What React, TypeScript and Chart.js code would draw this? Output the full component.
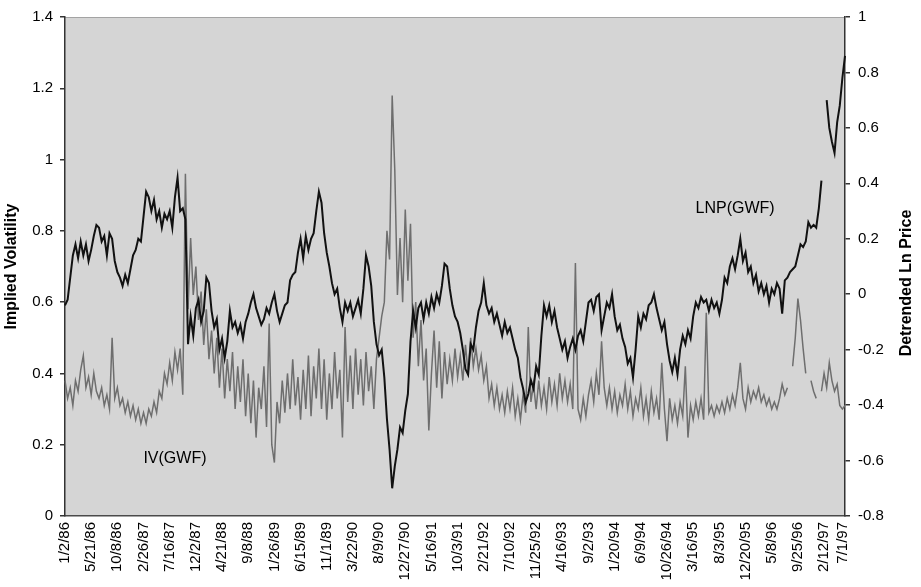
import React, { useEffect, useRef } from 'react';
import { Chart, registerables } from 'chart.js';

Chart.register(...registerables);

// ---- data (one sample roughly every 10 trading days) ----
const dateLabels = [
  '1/2/86', '5/21/86', '10/8/86', '2/26/87', '7/16/87', '12/2/87', '4/21/88', '9/8/88',
  '1/26/89', '6/15/89', '11/1/89', '3/22/90', '8/9/90', '12/27/90', '5/16/91', '10/3/91',
  '2/21/92', '7/10/92', '11/25/92', '4/16/93', '9/2/93', '1/20/94', '6/9/94', '10/26/94',
  '3/16/95', '8/3/95', '12/20/95', '5/8/96', '9/25/96', '2/12/97', '7/1/97',
];
// sample index at which each date label sits
const dateLabelIndex = [
  0, 10, 20, 30, 40, 50, 60, 70, 80, 90, 100, 110, 120, 130, 140, 150,
  160, 170, 180, 190, 200, 210, 220, 230, 240, 250, 260, 270, 280, 290, 297,
];

// Implied volatility, IV(GWF) – left axis
const ivValues: (number | null)[] = [
  0.38, 0.33, 0.36, 0.31, 0.38, 0.35, 0.41, 0.45, 0.36, 0.39,
  0.34, 0.4, 0.35, 0.33, 0.36, 0.31, 0.34, 0.3, 0.5, 0.33,
  0.36, 0.31, 0.33, 0.29, 0.32, 0.28, 0.31, 0.27, 0.3, 0.26,
  0.29, 0.26, 0.3, 0.28, 0.32, 0.29, 0.35, 0.33, 0.4, 0.37,
  0.43, 0.38, 0.46, 0.41, 0.47, 0.34, 0.96, 0.58, 0.78, 0.62,
  0.7, 0.55, 0.63, 0.48, 0.58, 0.44, 0.52, 0.4, 0.5, 0.36,
  0.47, 0.33, 0.44, 0.35, 0.46, 0.3, 0.42, 0.32, 0.44, 0.28,
  0.4, 0.26, 0.38, 0.22, 0.36, 0.3, 0.42, 0.25, 0.54, 0.2,
  0.15, 0.32, 0.26, 0.38, 0.29, 0.4, 0.3, 0.44, 0.31, 0.39,
  0.27, 0.41, 0.3, 0.45, 0.28, 0.42, 0.33, 0.47, 0.3, 0.44,
  0.27, 0.4, 0.3, 0.46, 0.33, 0.41, 0.22, 0.53, 0.32, 0.45,
  0.3, 0.47, 0.34, 0.44, 0.31, 0.46, 0.35, 0.42, 0.3, 0.44,
  0.5, 0.56, 0.6, 0.8, 0.72, 1.18, 0.97, 0.62, 0.78, 0.6,
  0.86, 0.66, 0.82, 0.5, 0.6, 0.42, 0.55, 0.38, 0.47, 0.24,
  0.4, 0.52, 0.36, 0.49, 0.33, 0.46, 0.37, 0.44, 0.38, 0.47,
  0.39, 0.45, 0.38, 0.48, 0.4, 0.5, 0.42, 0.47, 0.41, 0.45,
  0.38, 0.42, 0.33, 0.37, 0.31, 0.36, 0.3, 0.34, 0.29, 0.35,
  0.3, 0.36, 0.28, 0.33, 0.27, 0.34, 0.29, 0.53, 0.32, 0.37,
  0.3, 0.38, 0.31, 0.36, 0.3, 0.39, 0.32, 0.37, 0.31, 0.4,
  0.33, 0.38, 0.32, 0.37, 0.3, 0.71, 0.3, 0.27, 0.33, 0.28,
  0.34, 0.38, 0.32, 0.4, 0.34, 0.49, 0.36, 0.31, 0.36, 0.3,
  0.35, 0.29, 0.34, 0.31, 0.37, 0.3, 0.35, 0.28, 0.33, 0.3,
  0.36, 0.28, 0.33, 0.27, 0.35, 0.29, 0.33, 0.27, 0.43, 0.3,
  0.21, 0.33, 0.27, 0.31, 0.26, 0.32, 0.28, 0.42, 0.22, 0.31,
  0.27, 0.32, 0.28, 0.33, 0.27, 0.57, 0.29, 0.31, 0.28, 0.31,
  0.29, 0.32, 0.29, 0.33, 0.3, 0.34, 0.31, 0.36, 0.43, 0.33,
  0.3, 0.36, 0.32, 0.35, 0.33, 0.36, 0.32, 0.34, 0.31, 0.33,
  0.3, 0.32, 0.3, 0.33, 0.37, 0.34, 0.36, null, 0.42, 0.5,
  0.61, 0.55, 0.47, 0.4, null, 0.38, 0.35, 0.33, null, 0.35,
  0.4, 0.36, 0.43, 0.38, 0.35, 0.37, 0.31, 0.3, 0.31,
];

// Detrended ln price, LNP(GWF) – right axis
const lnpValues: (number | null)[] = [
  -0.04, -0.02, 0.06, 0.14, 0.18, 0.13, 0.19, 0.14, 0.18, 0.12,
  0.16, 0.21, 0.25, 0.24, 0.19, 0.21, 0.14, 0.22, 0.2, 0.12,
  0.08, 0.06, 0.03, 0.07, 0.04, 0.09, 0.14, 0.16, 0.2, 0.19,
  0.28, 0.37, 0.35, 0.3, 0.34, 0.27, 0.3, 0.24, 0.29, 0.27,
  0.3, 0.24, 0.35, 0.42, 0.3, 0.31, 0.27, -0.18, -0.08, -0.15,
  -0.05, -0.02, -0.1, -0.06, 0.06, 0.04, -0.06, -0.12, -0.09, -0.2,
  -0.16, -0.23, -0.17, -0.06, -0.12, -0.1, -0.14, -0.11, -0.16, -0.1,
  -0.07, -0.03, 0.0, -0.05, -0.08, -0.11, -0.09, -0.05, -0.07, -0.03,
  0.0, -0.06, -0.1, -0.07, -0.04, -0.03, 0.05, 0.07, 0.08, 0.15,
  0.2, 0.13, 0.21, 0.16, 0.2, 0.22, 0.3, 0.37, 0.33, 0.22,
  0.15, 0.1, 0.04, 0.0, 0.02, -0.05, -0.1, -0.03, -0.06, -0.03,
  -0.08, -0.05, -0.02, -0.07, 0.02, 0.14, 0.1, 0.03, -0.1, -0.18,
  -0.22, -0.2, -0.3, -0.45, -0.56, -0.7, -0.62, -0.56, -0.48, -0.5,
  -0.42, -0.36, -0.17, -0.06, -0.12, -0.05, -0.03, -0.09, -0.03, -0.07,
  -0.01, -0.05, 0.0, -0.03, 0.03, 0.11, 0.1, 0.02, -0.04, -0.08,
  -0.1, -0.14, -0.2, -0.27, -0.29, -0.18, -0.2, -0.12, -0.06, -0.03,
  0.04, -0.04, -0.07, -0.05, -0.1, -0.07, -0.11, -0.15, -0.1, -0.14,
  -0.12, -0.16, -0.2, -0.23, -0.3, -0.34, -0.39, -0.36, -0.31, -0.34,
  -0.26, -0.29, -0.15, -0.04, -0.08, -0.04, -0.1, -0.06, -0.12, -0.16,
  -0.2, -0.17, -0.23, -0.19, -0.16, -0.2, -0.15, -0.13, -0.17, -0.1,
  -0.03, -0.02, -0.06, -0.01, 0.0, -0.13, -0.08, -0.03, -0.05, 0.0,
  -0.08, -0.13, -0.11, -0.16, -0.19, -0.25, -0.23, -0.3, -0.2, -0.08,
  -0.12, -0.07, -0.09, -0.04, -0.03, 0.0, -0.05, -0.09, -0.13, -0.1,
  -0.18, -0.24, -0.28, -0.23, -0.29, -0.2, -0.15, -0.18, -0.13, -0.16,
  -0.08, -0.03, -0.05, -0.01, -0.03, -0.02, -0.06, -0.02, -0.05, -0.03,
  -0.07, -0.02, 0.06, 0.04, 0.1, 0.13, 0.09, 0.14, 0.2, 0.12,
  0.15, 0.08, 0.1, 0.04, 0.07, 0.01, 0.04, 0.0, 0.03, -0.03,
  0.02, 0.0, 0.04, 0.02, -0.07, 0.05, 0.06, 0.08, 0.09, 0.1,
  0.14, 0.18, 0.17, 0.19, 0.26, 0.24, 0.25, 0.24, 0.31, 0.41,
  null, 0.7, 0.6, 0.55, 0.51, 0.62, 0.68, 0.78, 0.86,
];

const leftAxis = { min: 0, max: 1.4, step: 0.2, title: 'Implied Volatility' };
const rightAxis = { min: -0.8, max: 1, step: 0.2, title: 'Detrended Ln Price' };

const seriesLabels = [
  { text: 'IV(GWF)', index: 42, value: 0.16, axis: 'y' },
  { text: 'LNP(GWF)', index: 256, value: 0.31, axis: 'y1' },
];

const categories: string[] = ivValues.map((_, i) => {
  const k = dateLabelIndex.indexOf(i);
  return k >= 0 ? dateLabels[k] : '';
});

const FONT = '"Liberation Sans", Arial, Helvetica, sans-serif';
const fmt = (v: number) => String(Math.round(v * 10) / 10);

const decorPlugin = {
  id: 'decor',
  beforeDraw(chart: any) {
    const { ctx, chartArea: a } = chart;
    ctx.save();
    ctx.fillStyle = '#d5d5d5';
    ctx.fillRect(a.left, a.top, a.right - a.left, a.bottom - a.top);
    ctx.strokeStyle = '#a3a3a3';
    ctx.lineWidth = 1;
    ctx.beginPath();
    ctx.moveTo(a.left, a.top + 0.5);
    ctx.lineTo(a.right, a.top + 0.5);
    ctx.stroke();
    ctx.restore();
  },
  afterDraw(chart: any) {
    const { ctx, chartArea: a } = chart;
    ctx.save();
    ctx.fillStyle = '#000';
    ctx.textAlign = 'center';
    ctx.textBaseline = 'middle';
    // axis titles
    ctx.font = `bold 16px ${FONT}`;
    ctx.save();
    ctx.translate(12, (a.top + a.bottom) / 2);
    ctx.rotate(-Math.PI / 2);
    ctx.fillText(leftAxis.title, 0, 0);
    ctx.restore();
    ctx.save();
    ctx.translate(907, 283);
    ctx.rotate(-Math.PI / 2);
    ctx.fillText(rightAxis.title, 0, 0);
    ctx.restore();
    // series labels
    ctx.font = `16px ${FONT}`;
    seriesLabels.forEach((l) => {
      const x = chart.scales.x.getPixelForValue(l.index);
      const y = chart.scales[l.axis].getPixelForValue(l.value);
      ctx.fillText(l.text, x, y);
    });
    ctx.restore();
  },
};

export default function App() {
  const ref = useRef<HTMLCanvasElement | null>(null);

  useEffect(() => {
    if (!ref.current) return;
    const chart = new Chart(ref.current, {
      type: 'line',
      data: {
        labels: categories,
        datasets: [
          {
            label: 'LNP(GWF)',
            data: lnpValues,
            yAxisID: 'y1',
            borderColor: '#111111',
            borderWidth: 2,
            pointRadius: 0,
            tension: 0,
            spanGaps: false,
          },
          {
            label: 'IV(GWF)',
            data: ivValues,
            yAxisID: 'y',
            borderColor: '#6e6e6e',
            borderWidth: 1.5,
            pointRadius: 0,
            tension: 0,
            spanGaps: false,
          },
        ],
      },
      options: {
        responsive: false,
        animation: false,
        layout: { padding: { top: 14, left: 0, right: 0, bottom: 0 } },
        plugins: { legend: { display: false }, tooltip: { enabled: false } },
        scales: {
          x: {
            type: 'category',
            offset: false,
            grid: { display: false, drawTicks: false },
            border: { display: true, color: '#4a4a4a', width: 1.5 },
            ticks: {
              autoSkip: false,
              minRotation: 90,
              maxRotation: 90,
              padding: 6,
              color: '#000',
              font: { family: FONT, size: 15 },
            },
            afterFit: (s: any) => { s.height = 71; },
          },
          y: {
            position: 'left',
            min: leftAxis.min,
            max: leftAxis.max,
            grid: { display: true, drawOnChartArea: false, drawTicks: true, tickLength: 5, color: '#333', lineWidth: 1.5 },
            border: { display: true, color: '#333', width: 1.5 },
            ticks: {
              stepSize: leftAxis.step,
              padding: 7,
              color: '#000',
              font: { family: FONT, size: 15 },
              callback: (v: any) => fmt(Number(v)),
            },
            afterFit: (s: any) => { s.width = 65; },
          },
          y1: {
            position: 'right',
            min: rightAxis.min,
            max: rightAxis.max,
            grid: { display: true, drawOnChartArea: false, drawTicks: true, tickLength: 5, color: '#333', lineWidth: 1.5 },
            border: { display: true, color: '#333', width: 1.5 },
            ticks: {
              stepSize: rightAxis.step,
              padding: 8,
              color: '#000',
              font: { family: FONT, size: 15 },
              callback: (v: any) => fmt(Number(v)),
            },
            afterFit: (s: any) => { s.width = 76; },
          },
        },
      },
      plugins: [decorPlugin],
    });
    return () => chart.destroy();
  }, []);

  return (
    <div style={{ position: 'absolute', left: 0, top: 0, width: 921, height: 587, background: '#fff' }}>
      <canvas ref={ref} width={921} height={587} style={{ display: 'block', width: 921, height: 587 }} />
    </div>
  );
}
